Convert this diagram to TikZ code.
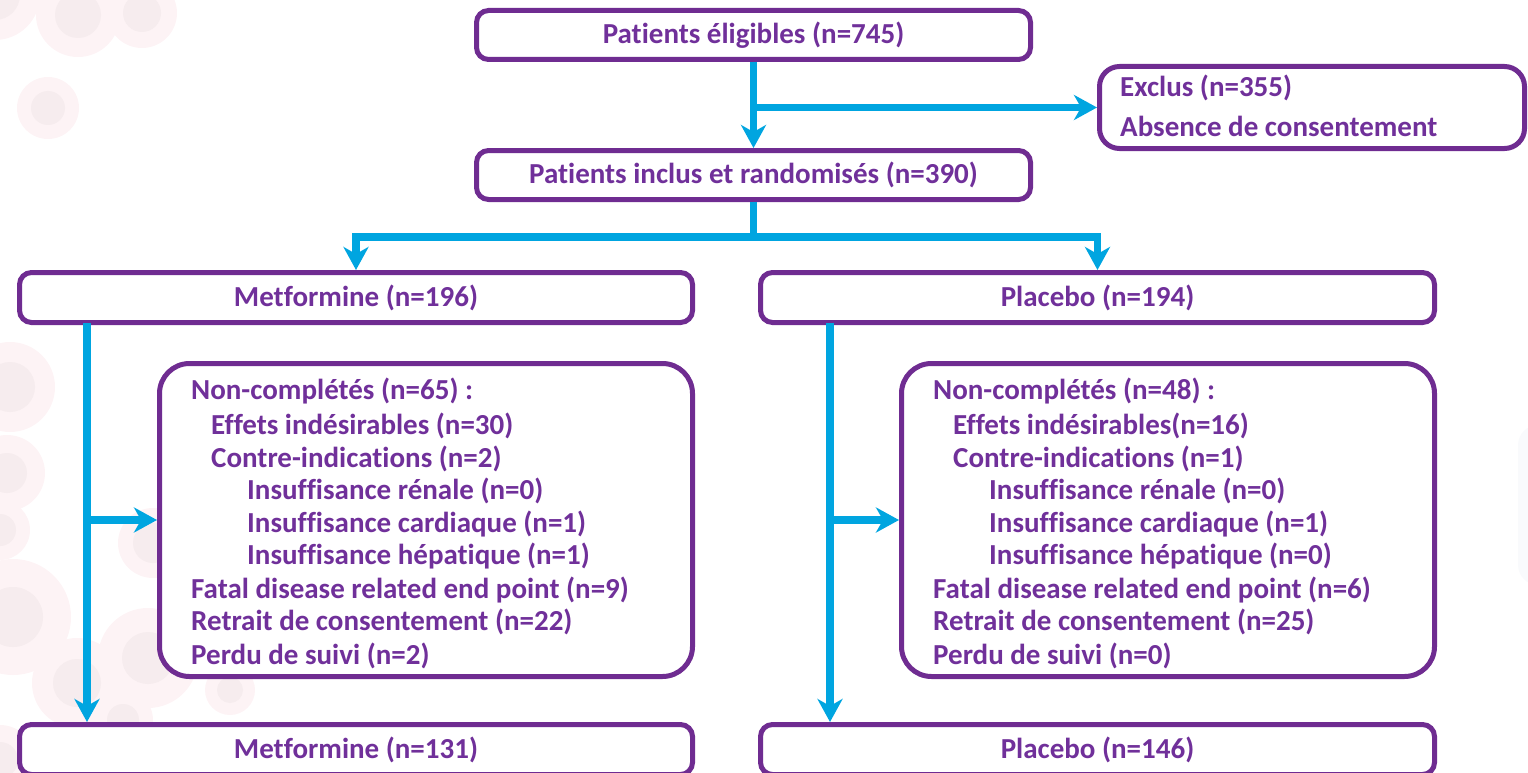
\documentclass[tikz,border=0pt]{standalone}
\usepackage{fontspec}
\setmainfont{Carlito}[Ligatures={NoCommon}]
\usetikzlibrary{arrows.meta}
\definecolor{boxpurple}{HTML}{6F2C91}
\definecolor{textpurple}{HTML}{70309A}
\definecolor{flowblue}{HTML}{00A5E0}
\definecolor{dotout}{HTML}{FDF3F5}
\definecolor{dotin}{HTML}{F6ECEE}
\definecolor{haze}{HTML}{F9FAFC}

\begin{document}
\begin{tikzpicture}[x=1pt,y=-1pt,
  box/.style={draw=boxpurple, line width=5pt, rounded corners=12pt, fill=white,
    inner sep=0pt, anchor=north west, text=textpurple,
    font=\fontsize{29}{34}\selectfont\bfseries},
  bigbox/.style={box, rounded corners=30pt},
  line/.style={text=textpurple, font=\fontsize{29}{34}\selectfont\bfseries,
    inner sep=0pt, anchor=base west},
  flow/.style={draw=flowblue, line width=7.5pt},
  flowarrow/.style={flow, -{Stealth[length=23pt,width=25pt,inset=7pt]}},
  dot/.style={fill=dotout},
  dotcore/.style={fill=dotin},
]
\useasboundingbox (0,0) rectangle (1528,773);
\clip (0,0) rectangle (1528,773);

% soft background dots
\foreach \cx/\cy/\ro/\ri in {-5/-5/45/25, 78/15/42/23, 142/13/35/19, 48/108/31/17,
    10/387/45/25, 7/473/38/20, 0/530/30/16, 13/617/58/30, 153/543/35/20,
    148/658/50/26, 77/683/45/24, 123/720/30/16, 0/760/35/18, 230/690/25/13} {
  \fill[dot] (\cx,\cy) circle (\ro);
  \fill[dotcore] (\cx,\cy) circle (\ri);
}
\fill[haze, rounded corners=20pt] (1518,425) rectangle (1560,585);

% boxes (placed by their outer corner)
\node[box, minimum width=554pt, minimum height=49pt] (elig) at (474,8) {Patients éligibles (n=745)};
\node[box, rounded corners=20pt, minimum width=425pt, minimum height=82pt] (excl) at (1097,64) {};
\node[line] (exclA) at (1120,97) {Exclus (n=355)};
\node[line] (exclB) at (1120,136) {Absence de consentement};
\node[box, minimum width=554pt, minimum height=49pt] (incl) at (474,148) {Patients inclus et randomisés (n=390)};

\node[box, minimum width=673pt, minimum height=50pt] (met1) at (17,270) {Metformine (n=196)};
\node[box, minimum width=674pt, minimum height=50pt] (pla1) at (758,270) {Placebo (n=194)};

\node[bigbox, minimum width=533pt, minimum height=313pt] (nc1) at (157,361) {};
\node[bigbox, minimum width=533pt, minimum height=313pt] (nc2) at (899,361) {};

\node[box, minimum width=673pt, minimum height=50pt] (met2) at (17,722) {Metformine (n=131)};
\node[box, minimum width=674pt, minimum height=50pt] (pla2) at (758,722) {Placebo (n=146)};

% reasons for non-completion
\foreach \dx/\y/\t [count=\i] in {
    0/399/{Non-complétés (n=65) :},
    20/434/{Effets indésirables (n=30)},
    20/467/{Contre-indications (n=2)},
    56/499/{Insuffisance rénale (n=0)},
    56/532/{Insuffisance cardiaque (n=1)},
    56/564/{Insuffisance hépatique (n=1)},
    0/598/{Fatal disease related end point (n=9)},
    0/630/{Retrait de consentement (n=22)},
    0/664/{Perdu de suivi (n=2)}} {
  \node[line] (ncl\i) at (191+\dx,\y) {\t};
}
\foreach \dx/\y/\t [count=\i] in {
    0/399/{Non-complétés (n=48) :},
    20/434/{Effets indésirables(n=16)},
    20/467/{Contre-indications (n=1)},
    56/499/{Insuffisance rénale (n=0)},
    56/532/{Insuffisance cardiaque (n=1)},
    56/564/{Insuffisance hépatique (n=0)},
    0/598/{Fatal disease related end point (n=6)},
    0/630/{Retrait de consentement (n=25)},
    0/664/{Perdu de suivi (n=0)}} {
  \node[line] (ncr\i) at (933+\dx,\y) {\t};
}

% connectors
\draw[flowarrow] (elig.south) -- (incl.north);
\draw[flowarrow] (elig.south |- excl.west) -- (excl.west);

\coordinate (fork) at (incl.south |- 0,237);
\draw[flow] (incl.south) -- (fork);
\draw[flowarrow] (fork) -| (met1.north);
\draw[flowarrow] (fork) -| (pla1.north);

\coordinate (lstem) at (87,322.5);
\coordinate (rstem) at (830,322.5);
\draw[flowarrow] (lstem) -- (lstem |- met2.north);
\draw[flowarrow] (lstem |- nc1.west) -- (nc1.west);
\draw[flowarrow] (rstem) -- (rstem |- pla2.north);
\draw[flowarrow] (rstem |- nc2.west) -- (nc2.west);
\end{tikzpicture}
\end{document}
